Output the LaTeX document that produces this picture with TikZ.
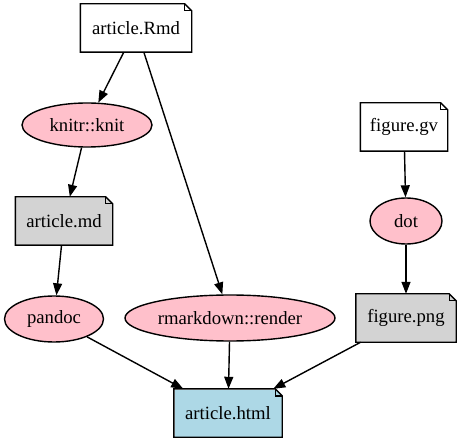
\documentclass[tikz,border=0pt]{standalone}
\usepackage{fontspec}
\setmainfont{Liberation Serif}
\usetikzlibrary{arrows.meta,shapes.geometric}

\definecolor{toolpink}{RGB}{255,192,203}
\definecolor{filegray}{RGB}{211,211,211}
\definecolor{htmlblue}{RGB}{173,216,230}

% folded note outline round a filled node
\newcommand{\notebox}[1]{%
  \fill[white] ([xshift=-7pt]#1.north east) -- (#1.north east) -- ([yshift=-7pt]#1.north east) -- cycle;
  \draw (#1.south west) -- (#1.north west) -- ([xshift=-7pt]#1.north east)
    -- ([yshift=-7pt]#1.north east) -- (#1.south east) -- cycle;
  \draw ([xshift=-7pt]#1.north east) |- ([yshift=-7pt]#1.north east);}

\begin{document}
\begin{tikzpicture}[x=1pt, y=-1pt, line width=1.4pt,
    every node/.style={font=\fontsize{18.7}{22}\selectfont, inner sep=0pt},
    tool/.style={ellipse, draw, fill=toolpink},
    file/.style={rectangle, minimum height=47pt, fill=white},
    flow/.style={-{Triangle[length=12pt,width=9pt]}}]
  \useasboundingbox (0,0) rectangle (460,443);

  \node (rmd)[file, minimum width=110pt] at (136,28) {article.Rmd};
  \node (knit)[tool, minimum width=130pt, minimum height=44pt] at (87,125) {knitr::knit};
  \node (md)[file, fill=filegray, minimum width=96pt] at (64,221) {article.md};
  \node (pandoc)[tool, minimum width=99pt, minimum height=46pt] at (54,319) {pandoc};
  \node (render)[tool, minimum width=210pt, minimum height=46pt] at (230,318) {rmarkdown::render};
  \node (html)[file, fill=htmlblue, minimum width=107pt] at (228,413) {article.html};
  \node (gv)[file, minimum width=86pt] at (404,127) {figure.gv};
  \node (dot)[tool, minimum width=72pt, minimum height=46pt] at (406,221) {dot};
  \node (png)[file, fill=filegray, minimum width=99pt] at (406,318) {figure.png};

  \notebox{rmd}
  \notebox{md}
  \notebox{html}
  \notebox{gv}
  \notebox{png}

  \draw[flow] (rmd) -- (knit);
  \draw[flow] (knit) -- (md);
  \draw[flow] (md) -- (pandoc);
  \draw[flow] (pandoc) -- (html);
  \draw[flow] (rmd) -- (render);
  \draw[flow] (render) -- (html);
  \draw[flow] (gv) -- (dot);
  \draw[flow] (dot) -- (png);
  \draw[flow] (png) -- (html);
\end{tikzpicture}
\end{document}
